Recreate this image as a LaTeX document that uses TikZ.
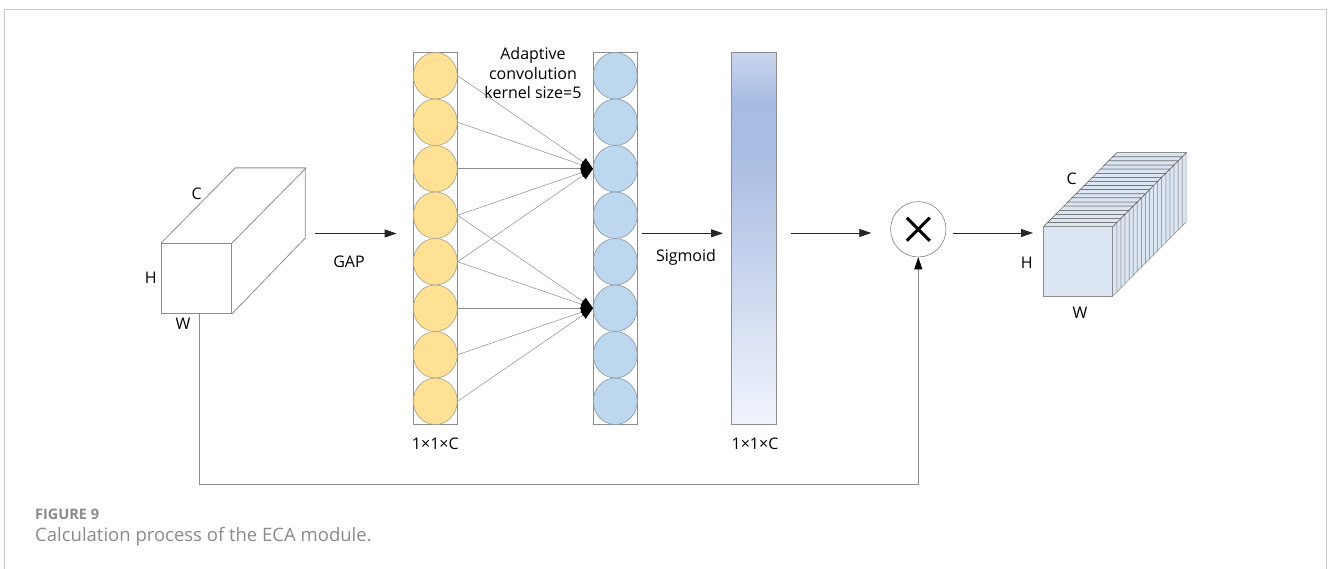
\documentclass[tikz,border=0pt]{standalone}
\usepackage{fontspec}
\setmainfont{Open Sans}
\usetikzlibrary{arrows.meta,shapes.geometric}
\definecolor{frameC}{HTML}{C8C8C8}
\definecolor{edgeC}{HTML}{8C8C8C}
\definecolor{yelC}{HTML}{FFE195}
\definecolor{yelE}{HTML}{A89F86}
\definecolor{bluC}{HTML}{BDD7EE}
\definecolor{bluE}{HTML}{8797A8}
\definecolor{sliceC}{HTML}{DCE6F2}
\definecolor{capC}{HTML}{8A8A8A}
\definecolor{bT}{HTML}{C9D6EE}
\definecolor{bA}{HTML}{A8BCE3}
\definecolor{bB}{HTML}{AABEE3}
\definecolor{bC}{HTML}{BFCDEA}
\definecolor{bD}{HTML}{D9E2F3}
\definecolor{bE}{HTML}{F0F3FB}
\pgfdeclareverticalshading{barshade}{100bp}{color(0bp)=(bE); color(25bp)=(bE); color(37.5bp)=(bD); color(50bp)=(bC); color(61bp)=(bB); color(68.5bp)=(bA); color(75bp)=(bT); color(100bp)=(bT)}
\tikzset{
  lbl/.style={font=\fontsize{16}{19.5}\selectfont, text=black, inner sep=0pt},
  edge3d/.style={draw=edgeC, line width=0.8pt},
  colrect/.style={draw=edgeC, line width=0.8pt, minimum width=44pt, minimum height=372pt, inner sep=0pt},
  ycirc/.style={ellipse, fill=yelC, draw=yelE, line width=0.6pt, minimum width=44pt, minimum height=46.5pt, inner sep=0pt},
  bcirc/.style={ellipse, fill=bluC, draw=bluE, line width=0.6pt, minimum width=44pt, minimum height=46.5pt, inner sep=0pt},
  arr/.style={-{Triangle[length=12pt,width=8pt]}, line width=0.8pt, draw=black!85},
  conv/.style={-{Triangle[length=12pt,width=9pt,color=black]}, line width=0.5pt, draw=black!45},
  fback/.style={-{Triangle[length=12pt,width=8pt,color=black]}, line width=0.8pt, draw=black!45},
  slicetop/.style={fill=sliceC, draw=black!65, line width=0.5pt},
  sliceside/.style={fill=sliceC, draw=edgeC, line width=0.5pt},
}
\begin{document}
\begin{tikzpicture}[x=1pt,y=-1pt]
\useasboundingbox (0,0) rectangle (1328,569);
% frame
\draw[frameC, line width=1.3pt] (4.3,569) -- (4.3,9.3) -- (1326.5,9.3) -- (1326.5,569);

% left cube
\node[edge3d, fill=white, minimum width=70pt, minimum height=70pt, inner sep=0pt] (cubeL) at (196.7,278.3) {};
\draw[edge3d] (cubeL.north west) -- ++(74,-75) -- ++(70,0) -- ++(0,70) -- (cubeL.south east);
\draw[edge3d] (cubeL.north east) -- ++(74,-75);
\node[lbl] (cL) at (196.7,193.3) {C};
\node[lbl] (hL) at (150.7,278) {H};
\node[lbl] (wL) at (183,324) {W};

% GAP arrow
\coordinate (gapS) at (315,233.5);
\node[colrect] (colY) at (435.3,238.5) {};
\draw[arr, shorten >=16.3pt] (gapS) -- (colY.west |- gapS);
\node[lbl] (gap) at (349,261.7) {GAP};

% columns of circles
\node[colrect] (colB) at (615.3,238.5) {};
\foreach \k in {0,...,7}{
  \node[ycirc] (y\k) at (435.3,{75.75+46.5*\k}) {};
  \node[bcirc] (b\k) at (615.3,{75.75+46.5*\k}) {};
}
\foreach \k in {0,...,4}{ \draw[conv] (y\k.east) -- (b2.west); }
\foreach \k in {3,...,7}{ \draw[conv] (y\k.east) -- (b5.west); }
\node[lbl, align=center] (adapt) at (533,73.5) {Adaptive\\convolution\\kernel size=5};
\node[lbl] (dimY) at (435.3,443.5) {1×1×C};

% sigmoid
\coordinate (sy) at (0,233.3);
\node[colrect, draw=edgeC, shading=barshade, minimum width=45pt] (bar) at (754.3,238.5) {};
\draw[arr, shorten <=4.4pt, shorten >=8.4pt] (colB.east |- sy) -- (bar.west |- sy);
\node[lbl] (sig) at (686,257.3) {Sigmoid};
\node[lbl] (dimB) at (755,443.5) {1×1×C};

% multiply
\node[circle, draw=black!50, line width=0.6pt, minimum size=55.4pt, inner sep=0pt] (mul) at (918.3,229.3) {};
\draw[line width=3pt, black] ([shift={(-11.5,-11.5)}]mul.center) -- ([shift={(11.5,11.5)}]mul.center);
\draw[line width=3pt, black] ([shift={(-11.5,11.5)}]mul.center) -- ([shift={(11.5,-11.5)}]mul.center);
\coordinate (ay) at (0,233);
\draw[arr, shorten <=14pt, shorten >=19pt] (bar.east |- ay) -- (mul.west |- ay);

% stacked output cube
\foreach \i in {17,...,0}{
  \pgfmathsetmacro\xx{1043.3+\i*4.083}
  \pgfmathsetmacro\yy{226.7-\i*4.111}
  \draw[sliceside] (\xx+69.4,\yy) -- ++(4.083,-4.111) -- ++(0,69.3) -- ++(-4.083,4.111) -- cycle;
  \draw[slicetop] (\xx,\yy) -- ++(4.083,-4.111) -- ++(69.4,0) -- ++(-4.083,4.111) -- cycle;
}
\node[fill=sliceC, draw=edgeC, line width=0.6pt, minimum width=69.4pt, minimum height=69.3pt, inner sep=0pt] (cubeR) at (1078,261.35) {};
\draw[arr, shorten <=7pt, shorten >=10pt] (mul.east |- ay) -- (cubeR.west |- ay);
\node[lbl] (cR) at (1071.7,178.3) {C};
\node[lbl] (hR) at (1026.7,262.7) {H};
\node[lbl] (wR) at (1080,312.7) {W};

% feedback
\draw[fback] ([xshift=2.6pt]cubeL.south) -- ++(0,171) -| (mul.south);

% caption
\node[anchor=west, inner sep=0pt, text=capC, font=\bfseries\fontsize{14.5}{17}\selectfont] (fig) at (35,514) {FIGURE 9};
\node[anchor=west, inner sep=0pt, text=capC, font=\fontsize{18.5}{22}\selectfont] (cap) at (35,537) {Calculation process of the ECA module.};
\end{tikzpicture}
\end{document}
